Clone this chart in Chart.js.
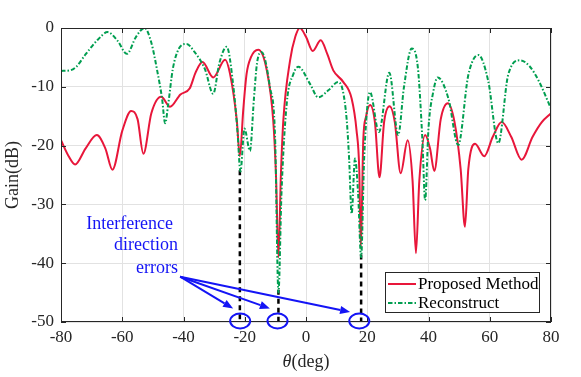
<!DOCTYPE html>
<html>
<head>
<meta charset="utf-8">
<script src="https://cdn.jsdelivr.net/npm/chart.js@4.4.0/dist/chart.umd.min.js"></script>
<style>
  html, body { margin: 0; padding: 0; background: #fff; }
</style>
</head>
<body>
<canvas id="chart" width="581" height="377"></canvas>
<script>
// tick values
const xTicks = [-80, -60, -40, -20, 0, 20, 40, 60, 80];
const yTicks = [-50, -40, -30, -20, -10, 0];

// Proposed Method
const redAngles = [-80, -77.5, -75.4, -72, -68.3, -65.5, -63.2, -60, -57.1, -55, -53.1, -50.5, -47.3, -44.4, -41, -38, -36, -33.8, -30.3, -26.4, -24.8, -22.6, -21.6, -20.5, -19.4, -18, -15.6, -12.8, -10.7, -9.8, -9, -8.2, -7.4, -5.2, -3.5, -2, 0, 2.2, 4.8, 7, 8.9, 12.2, 14.9, 16.5, 17.4, 17.9, 18.7, 19.6, 20.9, 22.5, 24, 25.5, 27.3, 29, 30.9, 33.2, 34.8, 35.9, 37, 38.9, 40.5, 41.9, 44, 46.3, 48.5, 50.5, 51.9, 53, 55.2, 58.2, 61, 63.9, 67, 70.4, 74, 77, 80];
const redGain = [-19.1, -21.8, -23.2, -20.5, -18.2, -20.5, -24.1, -17.5, -14.1, -15.5, -21.4, -14.5, -11.7, -13.4, -11.3, -10.3, -7.5, -5.8, -8.4, -5.4, -7.8, -15.7, -21.8, -14, -7.8, -5, -3.7, -7.2, -15.7, -25, -39, -25, -15.7, -5.5, -1.5, 0, -1.5, -3.9, -2.1, -4.5, -7.2, -9.2, -12, -17.4, -24.2, -37.5, -19.1, -15.1, -13.1, -16, -25.4, -16, -13.3, -16, -24.7, -19.1, -26, -38.3, -26, -18.2, -20.5, -24.3, -15.5, -12.8, -16, -24, -33.8, -24, -19.7, -21.8, -18.5, -16, -18.5, -22.4, -18.5, -16, -14.5];

// Reconstruct
const greenAngles = [-80, -77, -75, -72, -68, -64.8, -61.5, -58.5, -55.5, -52.7, -50.5, -48.5, -47, -46, -45, -43.5, -41.5, -39, -36.5, -33, -30.3, -28.3, -25.9, -23.7, -22.4, -21.4, -20.1, -18.3, -17, -16, -14.5, -11.8, -10.1, -9, -8, -6.3, -4.1, -2.5, 1.3, 4, 7.3, 10.5, 12, 13.3, 14.1, 14.9, 16, 17, 18, 19, 20.9, 23.8, 27.2, 30.1, 32, 34.5, 36.5, 38, 38.9, 40, 41.5, 43, 46.5, 49.7, 53, 56.3, 59.5, 62.8, 66, 69.9, 73, 76, 80];
const greenGain = [-7.3, -7.2, -6.6, -4.5, -2, -0.7, -2.2, -4.4, -1.5, 0, -2.5, -7.5, -12, -16.2, -13, -7, -3.5, -2.7, -4, -7, -11.2, -6, -3.2, -10, -17.4, -24.4, -17.1, -20.9, -12, -6, -4.1, -10, -18.5, -45, -28, -12.9, -7.8, -6.6, -9.5, -11.8, -10.6, -9.2, -10.6, -15.7, -22.5, -31.6, -22.2, -28, -39, -22, -10.9, -17.7, -7.6, -18.2, -10, -3.5, -6.6, -19, -29.3, -17, -11, -8.4, -12, -19.9, -8, -4.6, -9, -19.6, -8, -5.5, -6.5, -9, -13.7];

// interference directions (black dashed drops)
const nullAngles = [-21.6, -9, 18];
const nullDepth = [-24.2, -44.5, -38.5];

// annotation
const noteLines = ["Interference", "direction", "errors"];
const noteRight = [-43.4, -41.8, -41.8];
const noteGain = [-33.3, -37.0, -40.8];
const arrowFrom = [-41.1, -42.3];
const arrowToAngles = [-23.8, -11.8, 14.4];
const arrowToGain = [-47.7, -47.7, -48.3];
const circleAngles = [-21.5, -9.3, 17.4];

const RED = "rgb(232, 22, 58)";
const GREEN = "rgb(0, 158, 80)";
const BLUE = "rgb(20, 20, 245)";
const INK = "#262626";
const SERIF = "Liberation Serif";
const DASHDOT = [4.5, 2, 1.5, 2];

function toPoints(xs, ys) {
  return xs.map((v, i) => ({ x: v, y: ys[i] }));
}

const dropSets = nullAngles.map((a, i) => ({
  data: [{ x: a, y: nullDepth[i] }, { x: a, y: -50 }],
  borderColor: "#000",
  borderWidth: 2.5,
  borderDash: [5, 4],
  pointRadius: 0,
  order: 3,
}));

const decor = {
  id: "decor",
  afterDraw(chart) {
    const { ctx, chartArea: a, scales: { x, y } } = chart;
    ctx.save();

    // box + inward ticks
    ctx.strokeStyle = INK;
    ctx.lineWidth = 1;
    ctx.strokeRect(a.left + 0.5, a.top + 0.5, a.width - 1, a.height - 1);
    ctx.beginPath();
    xTicks.forEach((v) => {
      const px = Math.round(x.getPixelForValue(v)) + 0.5;
      ctx.moveTo(px, a.bottom); ctx.lineTo(px, a.bottom - 5);
      ctx.moveTo(px, a.top); ctx.lineTo(px, a.top + 5);
    });
    yTicks.forEach((v) => {
      const py = Math.round(y.getPixelForValue(v)) + 0.5;
      ctx.moveTo(a.left, py); ctx.lineTo(a.left + 5, py);
      ctx.moveTo(a.right, py); ctx.lineTo(a.right - 5, py);
    });
    ctx.stroke();

    // axis titles
    ctx.fillStyle = INK;
    ctx.textBaseline = "middle";
    ctx.font = "italic 18px " + SERIF;
    const th = "θ";
    const wTh = ctx.measureText(th).width;
    ctx.font = "18px " + SERIF;
    const rest = "(deg)";
    const wRest = ctx.measureText(rest).width;
    const cx = (a.left + a.right) / 2;
    let sx = cx - (wTh + wRest) / 2;
    ctx.textAlign = "left";
    ctx.font = "italic 18px " + SERIF;
    ctx.fillText(th, sx, 362);
    ctx.font = "18px " + SERIF;
    ctx.fillText(rest, sx + wTh, 362);

    ctx.save();
    ctx.translate(13, (a.top + a.bottom) / 2);
    ctx.rotate(-Math.PI / 2);
    ctx.textAlign = "center";
    ctx.fillText("Gain(dB)", 0, 0);
    ctx.restore();

    // annotation text
    ctx.fillStyle = BLUE;
    ctx.font = "18px " + SERIF;
    ctx.textAlign = "right";
    noteLines.forEach((t, i) => {
      ctx.fillText(t, x.getPixelForValue(noteRight[i]), y.getPixelForValue(noteGain[i]));
    });

    // arrows
    ctx.strokeStyle = BLUE;
    ctx.lineWidth = 2;
    const x0 = x.getPixelForValue(arrowFrom[0]);
    const y0 = y.getPixelForValue(arrowFrom[1]);
    arrowToAngles.forEach((v, i) => {
      const x1 = x.getPixelForValue(v);
      const y1 = y.getPixelForValue(arrowToGain[i]);
      const ang = Math.atan2(y1 - y0, x1 - x0);
      const hl = 10, hw = 4;
      const bx = x1 - hl * Math.cos(ang), by = y1 - hl * Math.sin(ang);
      ctx.beginPath();
      ctx.moveTo(x0, y0); ctx.lineTo(bx, by);
      ctx.stroke();
      ctx.beginPath();
      ctx.moveTo(x1, y1);
      ctx.lineTo(bx + hw * Math.sin(ang), by - hw * Math.cos(ang));
      ctx.lineTo(bx - hw * Math.sin(ang), by + hw * Math.cos(ang));
      ctx.closePath();
      ctx.fill();
    });

    // circles at the bottom
    circleAngles.forEach((v) => {
      ctx.beginPath();
      ctx.ellipse(x.getPixelForValue(v), y.getPixelForValue(-50) - 1, 10, 7.5, 0, 0, Math.PI * 2);
      ctx.stroke();
    });

    // legend box
    const bw = 154, bh = 40;
    const bx = a.right - 12 - bw, by = a.bottom - 10 - bh;
    ctx.fillStyle = "#fff";
    ctx.fillRect(bx, by, bw, bh);
    ctx.strokeStyle = INK;
    ctx.lineWidth = 1;
    ctx.strokeRect(Math.round(bx) + 0.5, Math.round(by) + 0.5, bw, bh);
    const rows = [
      { label: "Proposed Method", color: RED, dash: [] },
      { label: "Reconstruct", color: GREEN, dash: DASHDOT },
    ];
    rows.forEach((r, i) => {
      const ry = by + 12 + i * 19;
      ctx.strokeStyle = r.color;
      ctx.lineWidth = 2;
      ctx.setLineDash(r.dash);
      ctx.beginPath();
      ctx.moveTo(bx + 3, ry); ctx.lineTo(bx + 31, ry);
      ctx.stroke();
      ctx.setLineDash([]);
      ctx.fillStyle = "#000";
      ctx.font = "17px " + SERIF;
      ctx.textAlign = "left";
      ctx.fillText(r.label, bx + 33, ry + 0.5);
    });

    ctx.restore();
  },
};

new Chart(document.getElementById("chart"), {
  type: "line",
  data: {
    datasets: [
      {
        label: "Proposed Method",
        data: toPoints(redAngles, redGain),
        borderColor: RED,
        borderWidth: 2,
        cubicInterpolationMode: "monotone",
        pointRadius: 0,
        order: 2,
      },
      {
        label: "Reconstruct",
        data: toPoints(greenAngles, greenGain),
        borderColor: GREEN,
        borderWidth: 2,
        borderDash: DASHDOT,
        cubicInterpolationMode: "monotone",
        pointRadius: 0,
        order: 1,
      },
      ...dropSets,
    ],
  },
  options: {
    responsive: false,
    animation: false,
    layout: { padding: { top: 28, right: 30, left: 0, bottom: 0 } },
    plugins: { legend: { display: false }, tooltip: { enabled: false } },
    scales: {
      x: {
        type: "linear",
        min: -80,
        max: 80,
        afterFit: (s) => { s.height = 55; },
        afterBuildTicks: (s) => { s.ticks = xTicks.map((v) => ({ value: v })); },
        grid: { color: "#e2e2e2", lineWidth: 1, drawTicks: false },
        border: { display: false },
        ticks: { color: INK, font: { family: SERIF, size: 17 }, padding: 5, maxRotation: 0, autoSkip: false },
      },
      y: {
        type: "linear",
        min: -50,
        max: 0,
        afterFit: (s) => { s.width = 61; },
        afterBuildTicks: (s) => { s.ticks = yTicks.map((v) => ({ value: v })); },
        grid: { color: "#e2e2e2", lineWidth: 1, drawTicks: false },
        border: { display: false },
        ticks: { color: INK, font: { family: SERIF, size: 17 }, padding: 7 },
      },
    },
  },
  plugins: [decor],
});
</script>
</body>
</html>
